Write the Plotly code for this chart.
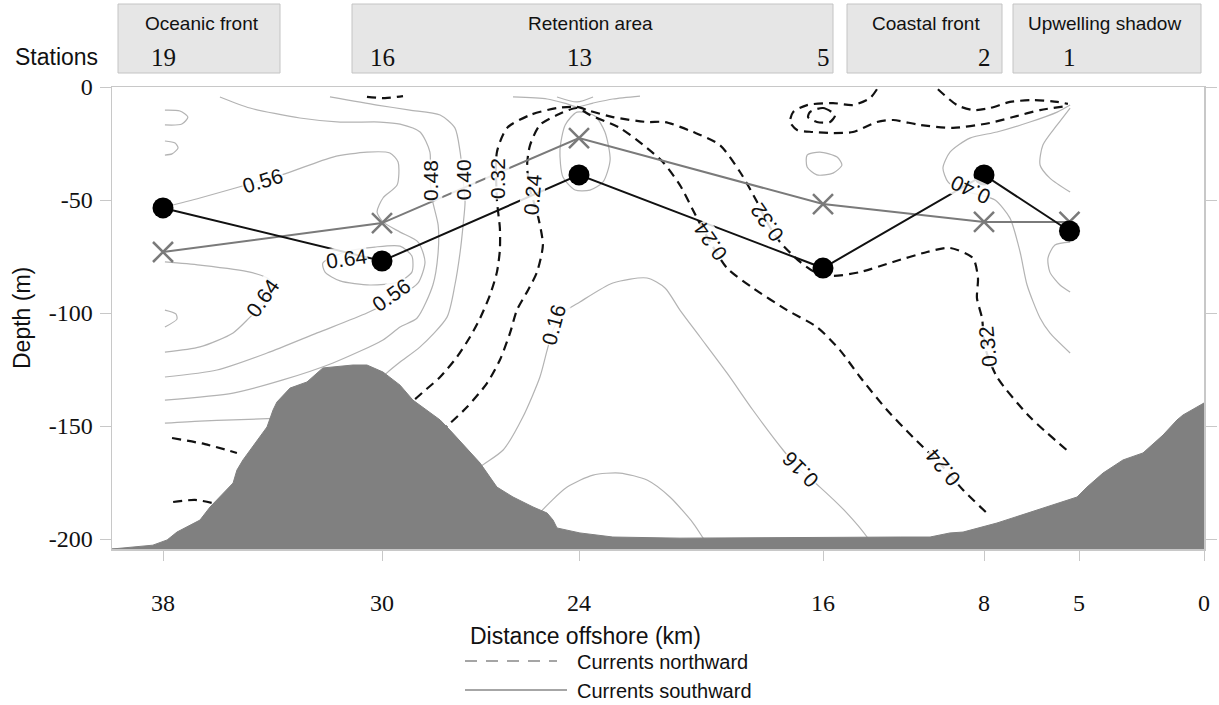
import numpy as np
import plotly.graph_objects as go

# ---------------- axis definitions ----------------
# distance offshore (km) and its position along the drawn section (non-uniform scale of the original)
AXIS_KM = [39.86, 38, 30, 24, 16, 8, 5, 0]
AXIS_POS = [0, 51, 270, 467, 711, 872, 967, 1092]
TICK_KM = [38, 30, 24, 16, 8, 5, 0]
TICK_LABELS = ["38", "30", "24", "16", "8", "5", "0"]
DEPTH_TICKS = [0, -50, -100, -150, -200]
DEPTH_TICK_LABELS = ["0", "-50", "-100", "-150", "-200"]
DEPTH_MIN = -204.4

# ---------------- stations ----------------
STATION_KM = [38, 30, 24, 16, 8, 5.3]
STATION_IDS = ["19", "16", "13", "5", "2", "1"]
REGION_NAMES = ["Oceanic front", "Retention area", "Coastal front", "Upwelling shadow"]
CIRCLE_DEPTH = [-53.5, -77.0, -38.9, -80.1, -38.9, -63.7]
CROSS_DEPTH = [-73.0, -60.2, -22.6, -51.8, -59.7, -59.7]

# ---------------- bathymetry ----------------
BATHY_KM = [39.86, 38.37, 37.85, 37.49, 36.65, 36.28, 35.44, 35.30, 35.08, 34.46, 34.20, 33.98,
            33.84, 33.36, 32.74, 32.16, 31.06, 30.55, 29.97, 29.45, 29.06, 28.23, 27.93, 27.01,
            26.50, 26.01, 25.40, 24.97, 24.79, 24.67, 23.97, 22.89, 20.69, 12.17, 10.68, 9.69,
            9.04, 7.59, 6.55, 5.06, 4.68, 4.04, 3.24, 2.44, 1.64, 1.08, 0.84, 0.00]
BATHY_DEPTH = [-204.4, -202.7, -200.4, -196.9, -191.6, -185.8, -175.2, -169.5, -165.0, -154.9, -150.4, -142.9,
               -139.4, -133.2, -130.5, -124.3, -123.0, -123.0, -126.1, -131.9, -138.5, -147.3, -151.8, -166.4,
               -177.0, -181.4, -185.8, -188.5, -191.6, -195.1, -197.3, -199.1, -199.6, -199.1, -199.1, -197.3,
               -196.9, -192.9, -188.1, -181.4, -177.0, -170.8, -165.0, -161.9, -154.0, -147.3, -145.1, -139.8]

# ---------------- southward current isolines (solid) ----------------
S048_KM = [35.92, 34.82, 33.00, 31.53, 30.07, 29.45, 28.84, 28.54, 28.54, 28.45, 28.29, 28.29, 28.45, 28.93,
           29.45, 29.97, 31.79, 33.62, 35.44, 37.93]
S048_D = [-4.4, -9.3, -13.7, -15.5, -15.5, -16.4, -19.9, -28.8, -40.3, -50.9, -61.1, -73.0, -87.6, -102.2,
          -106.2, -111.9, -122.1, -129.6, -135.4, -138.5]
S040A_KM = [31.90, 30.18, 29.15, 28.23, 27.78, 27.62, 27.53, 27.47, 27.53, 27.62, 27.78, 28.02, 28.84, 29.45,
            29.85, 30.07]
S040A_D = [-4.4, -8.0, -10.2, -12.4, -18.1, -28.8, -41.2, -50.9, -61.1, -73.0, -87.6, -101.8, -115.0, -121.7,
           -126.5, -129.6]
S040B_KM = [37.93, 36.65, 35.44, 33.70]
S040B_D = [-148.7, -147.8, -147.3, -146.5]
S056_KM = [37.93, 36.65, 34.35, 33.47, 31.79, 30.55, 29.76, 29.51, 29.54, 29.97, 30.18, 29.97, 29.45, 28.90,
           28.69, 28.90, 29.45, 30.55, 32.37, 34.20, 36.03, 37.93]
S056_D = [-53.1, -49.1, -41.2, -38.1, -31.0, -28.8, -29.2, -33.2, -43.4, -49.1, -55.3, -59.7, -64.2, -68.6,
          -77.4, -86.7, -92.5, -100.0, -108.8, -117.7, -125.2, -128.3]
S064A_KM = [37.93, 36.65, 34.82, 34.09, 34.02, 34.38, 34.82, 35.44, 36.65, 37.93]
S064A_D = [-77.4, -78.8, -81.9, -85.4, -90.7, -96.5, -101.8, -108.8, -115.0, -117.3]
S064B_KM = [32.16, 31.35, 30.26, 29.45, 29.09, 29.09, 29.51, 30.44, 31.53, 32.08, 32.16]
S064B_D = [-77.9, -73.0, -70.8, -70.4, -74.8, -81.9, -86.3, -87.6, -85.8, -81.9, -77.9]
SL1_KM = [37.93, 37.38, 37.09, 37.31, 37.93]
SL1_D = [-10.2, -10.6, -13.3, -16.4, -16.8]
SL2_KM = [37.93, 37.56, 37.45, 37.67, 37.93]
SL2_D = [-23.9, -24.8, -27.0, -29.6, -30.1]
SL3_KM = [37.93, 37.53, 37.49, 37.93]
SL3_D = [-98.7, -100.4, -102.7, -106.2]
SV1_KM = [26.01, 24.97, 24.36, 24.06, 23.54, 22.89, 22.00]
SV1_D = [-4.4, -5.3, -7.5, -8.8, -7.1, -5.3, -4.0]
SV2_KM = [24.67, 24.06, 23.54]
SV2_D = [-4.4, -6.6, -4.4]
S24LOOP_KM = [24.06, 23.48, 23.15, 22.98, 23.21, 23.64, 24.12, 24.49, 24.58, 24.42, 24.06]
S24LOOP_D = [-11.1, -12.8, -19.9, -32.3, -42.0, -45.6, -45.6, -39.8, -27.9, -16.8, -11.1]
S016_KM = [27.32, 27.01, 26.31, 25.71, 25.19, 24.97, 24.79, 24.49, 23.97, 22.89, 21.77, 21.18, 20.69, 20.03,
           19.15, 18.30, 17.31, 16.75, 16.10, 14.81, 13.81, 13.57]
S016_D = [-173.0, -168.1, -160.6, -146.0, -128.3, -116.4, -107.5, -100.0, -95.1, -86.7, -84.5, -88.9, -98.7,
          -110.6, -126.5, -142.9, -160.6, -169.5, -177.0, -188.5, -199.1, -202.7]
SARCH_KM = [25.30, 25.19, 24.36, 23.54, 22.66, 21.77, 21.02, 20.26, 19.93, 19.80]
SARCH_D = [-192.0, -188.5, -177.0, -171.7, -170.8, -173.9, -181.4, -192.9, -199.6, -202.5]
S16LOOP_KM = [16.52, 16.10, 15.30, 15.06, 15.50, 16.20, 16.52, 16.52]
S16LOOP_D = [-30.1, -28.8, -31.0, -34.5, -38.1, -38.9, -35.4, -30.1]
S040R_KM = [5.28, 5.69, 6.55, 7.59, 8.70, 9.69, 10.04, 9.79, 9.19, 8.20, 7.65, 7.18, 6.86, 6.64, 6.23, 5.92, 5.28]
S040R_D = [-8.0, -11.1, -15.5, -19.9, -22.6, -28.8, -35.8, -42.0, -45.6, -47.8, -50.0, -58.0, -73.0, -87.6,
           -102.2, -108.8, -117.7]
SR2_KM = [5.28, 5.69, 6.14, 6.23, 5.92, 5.28]
SR2_D = [-9.3, -16.8, -25.7, -34.5, -40.3, -46.5]
SR3_KM = [5.28, 5.76, 5.98, 5.92, 5.60, 5.28]
SR3_D = [-68.6, -69.9, -75.7, -81.9, -87.6, -90.7]

# ---------------- northward current isolines (dashed) ----------------
N032_KM = [29.30, 29.09, 28.75, 28.23, 27.72, 27.32, 27.01, 26.71, 26.50, 26.41, 26.41, 26.50, 26.50, 26.19,
           25.49, 24.67, 24.06, 23.64, 22.89, 21.77, 21.18, 20.26, 19.38, 18.72, 18.16, 17.84, 17.41, 16.75,
           16.26, 15.50, 14.16, 12.52, 10.83, 9.69, 8.55, 8.30, 8.35, 8.10, 7.97, 7.59, 6.55, 5.28]
N032_D = [-142.9, -139.4, -135.0, -128.3, -119.5, -110.6, -102.2, -92.0, -81.9, -72.1, -62.4, -50.0, -28.8,
          -18.1, -12.4, -9.3, -8.8, -10.6, -13.3, -15.5, -15.5, -19.9, -25.7, -37.6, -50.9, -59.7, -68.6, -77.4,
          -81.9, -83.6, -81.9, -77.4, -73.0, -71.2, -75.7, -84.5, -93.4, -102.2, -115.0, -128.3, -146.0, -161.9]
N024_KM = [28.23, 27.99, 27.41, 26.80, 26.41, 26.10, 25.89, 25.55, 25.28, 25.10, 25.28, 25.49, 25.58, 25.49,
           25.19, 24.67, 24.06, 23.64, 22.66, 21.77, 21.25, 20.69, 20.13, 19.70, 19.15, 18.30, 17.18, 16.20,
           15.16, 14.16, 12.82, 11.53, 10.04, 9.04, 7.91]
N024_D = [-152.7, -149.6, -141.6, -131.0, -120.8, -108.8, -98.7, -89.8, -81.9, -69.9, -55.3, -45.6, -34.5,
          -25.7, -16.8, -12.4, -9.3, -12.4, -18.1, -27.0, -33.2, -43.4, -58.0, -68.6, -80.1, -88.9, -98.7,
          -106.2, -116.4, -128.3, -142.9, -154.9, -168.1, -178.3, -188.5]
NU_KM = [13.32, 13.66, 14.51, 15.50, 16.52, 16.98, 17.08, 16.85, 16.33, 15.50, 14.51, 13.32, 12.52, 11.18,
         9.54, 7.81, 7.08, 6.23, 5.38]
NU_D = [-1.0, -4.9, -8.0, -7.1, -8.0, -11.1, -15.5, -19.0, -19.9, -20.4, -19.9, -15.5, -14.6, -16.8, -18.1,
        -15.9, -13.3, -10.2, -8.4]
NLOOP_KM = [16.43, 16.00, 15.40, 15.65, 16.20, 16.49, 16.43]
NLOOP_D = [-11.1, -9.3, -12.4, -15.5, -15.5, -13.3, -11.1]
NTOPR_KM = [10.29, 9.34, 8.55, 7.81, 7.18, 6.45, 5.69, 5.35]
NTOPR_D = [-1.0, -8.0, -10.2, -9.3, -6.6, -5.8, -6.6, -7.5]
NTOPL_KM = [30.55, 29.91, 29.36]
NTOPL_D = [-4.4, -4.9, -4.0]
NDEEP1_KM = [37.67, 36.47, 35.30]
NDEEP1_D = [-155.3, -158.0, -161.9]
NDEEP2_KM = [37.63, 36.83, 36.17]
NDEEP2_D = [-183.6, -182.7, -184.1]

# ---------------- isoline labels ----------------
LABEL_TEXT = ["0.56", "0.64", "0.64", "0.56", "0.48", "0.40", "0.32", "0.24", "0.16",
              "0.32", "0.24", "0.16", "0.24", "0.32", "0.40"]
LABEL_KM = [34.35, 31.28, 34.38, 29.70, 28.54, 27.53, 26.50, 25.43, 24.79,
            17.84, 19.70, 16.75, 10.04, 7.87, 8.70]
LABEL_D = [-41.2, -75.7, -93.4, -92.0, -41.2, -41.2, -40.3, -47.8, -105.3,
           -59.7, -68.6, -169.5, -168.1, -115.0, -45.6]
LABEL_ANGLE = [-17, -8, -55, -35, -90, -90, -90, -85, -75, -125, -125, -135, -130, -95, -155]

# ---------------- helpers ----------------
def xs(km):
    return np.interp(-np.asarray(km, dtype=float), -np.asarray(AXIS_KM, dtype=float), AXIS_POS)

PLOT_L, PLOT_R, PLOT_T, PLOT_B = 112, 1204, 87, 549
def pxx(x):
    return (x - PLOT_L) / (PLOT_R - PLOT_L)
def pxy(y):
    return (PLOT_B - y) / (PLOT_B - PLOT_T)

SANS_N = "Liberation Sans Narrow, Arial Narrow, Liberation Sans, Arial, sans-serif"
SANS = "Liberation Sans, Arial, sans-serif"
SERIF = "Liberation Serif, Times New Roman, serif"

fig = go.Figure()

south_lines = [(S048_KM, S048_D), (S040A_KM, S040A_D), (S040B_KM, S040B_D), (S056_KM, S056_D),
               (S064A_KM, S064A_D), (S064B_KM, S064B_D), (SL1_KM, SL1_D), (SL2_KM, SL2_D), (SL3_KM, SL3_D),
               (SV1_KM, SV1_D), (SV2_KM, SV2_D), (S24LOOP_KM, S24LOOP_D), (S016_KM, S016_D),
               (SARCH_KM, SARCH_D), (S16LOOP_KM, S16LOOP_D), (S040R_KM, S040R_D), (SR2_KM, SR2_D),
               (SR3_KM, SR3_D)]
north_lines = [(N032_KM, N032_D), (N024_KM, N024_D), (NU_KM, NU_D), (NLOOP_KM, NLOOP_D),
               (NTOPR_KM, NTOPR_D), (NTOPL_KM, NTOPL_D), (NDEEP1_KM, NDEEP1_D), (NDEEP2_KM, NDEEP2_D)]

for km, d in south_lines:
    fig.add_trace(go.Scatter(x=xs(km), y=d, mode="lines",
                             line=dict(color="#b3b3b3", width=1.2, shape="spline", smoothing=0.7),
                             hoverinfo="skip", showlegend=False))
for km, d in north_lines:
    fig.add_trace(go.Scatter(x=xs(km), y=d, mode="lines",
                             line=dict(color="#111111", width=2.2, dash="9px,6px", shape="spline", smoothing=0.7),
                             hoverinfo="skip", showlegend=False))

# bathymetry
bx = list(xs(BATHY_KM)) + [xs([0])[0], xs([AXIS_KM[0]])[0]]
by = list(BATHY_DEPTH) + [DEPTH_MIN, DEPTH_MIN]
fig.add_trace(go.Scatter(x=bx, y=by, mode="lines", fill="toself", fillcolor="#808080",
                         line=dict(color="#808080", width=1), hoverinfo="skip", showlegend=False))

# station series
fig.add_trace(go.Scatter(x=xs(STATION_KM), y=CROSS_DEPTH, mode="lines+markers",
                         line=dict(color="#7a7a7a", width=2),
                         marker=dict(symbol="x-thin", size=20, line=dict(color="#7a7a7a", width=2.5)),
                         hoverinfo="skip", showlegend=False))
fig.add_trace(go.Scatter(x=xs(STATION_KM), y=CIRCLE_DEPTH, mode="lines+markers",
                         line=dict(color="#111111", width=2),
                         marker=dict(symbol="circle", size=21, color="#000000"),
                         hoverinfo="skip", showlegend=False))

annotations = []
for t, k, d, a in zip(LABEL_TEXT, LABEL_KM, LABEL_D, LABEL_ANGLE):
    annotations.append(dict(x=xs([k])[0], y=d, xref="x", yref="y", text=t, showarrow=False,
                            xanchor="center", yanchor="middle",
                            textangle=a, font=dict(family=SANS, size=21, color="#111111"),
                            bgcolor="rgba(255,255,255,0.85)", borderpad=0))

def note(x, y, text, size, family=SANS_N, xref="paper", xanchor="center", angle=0):
    return dict(x=x, y=y, xref=xref, yref="paper", text=text, showarrow=False,
                xanchor=xanchor, yanchor="middle", textangle=angle,
                font=dict(family=family, size=size, color="#111111"))

shapes = []
# region boxes (pixel extents of the header)
BOXES = [(118, 280), (352, 833), (847, 1002), (1013, 1201)]
BOX_TEXT_X = [202, 590, 926, 1104]
for (x0, x1), name, tx in zip(BOXES, REGION_NAMES, BOX_TEXT_X):
    shapes.append(dict(type="rect", xref="paper", yref="paper", x0=pxx(x0), x1=pxx(x1), y0=pxy(73), y1=pxy(4),
                       fillcolor="#e6e6e6", line=dict(color="#c4c4c4", width=1), layer="below"))
    annotations.append(note(pxx(tx), pxy(24), name, 19))
for sid, k in zip(STATION_IDS, STATION_KM):
    annotations.append(note(xs([k])[0], pxy(57), sid, 25, family=SERIF, xref="x"))
annotations.append(note(pxx(56), pxy(57), "Stations", 23))

# axis titles
annotations.append(note(pxx(22), pxy(318), "Depth (m)", 23, angle=-90))
annotations.append(note(pxx(585), pxy(636), "Distance offshore (km)", 23))

# legend (drawn)
shapes.append(dict(type="line", xref="paper", yref="paper", x0=pxx(465), x1=pxx(557), y0=pxy(661), y1=pxy(661),
                   line=dict(color="#888888", width=1.5, dash="12px,9px")))
shapes.append(dict(type="line", xref="paper", yref="paper", x0=pxx(465), x1=pxx(567), y0=pxy(690), y1=pxy(690),
                   line=dict(color="#888888", width=1.5)))
annotations.append(note(pxx(575), pxy(662), "Currents northward", 20, xanchor="left"))
annotations.append(note(pxx(575), pxy(691), "Currents southward", 20, xanchor="left"))

fig.update_layout(
    width=1219, height=705,
    margin=dict(l=PLOT_L, r=1219 - PLOT_R, t=PLOT_T, b=705 - PLOT_B),
    paper_bgcolor="white", plot_bgcolor="white",
    showlegend=False,
    annotations=annotations, shapes=shapes,
    xaxis=dict(range=[0, AXIS_POS[-1]], tickvals=list(xs(TICK_KM)), ticktext=TICK_LABELS,
               showgrid=False, zeroline=False, showline=True, linecolor="#c8c8c8", linewidth=1.5, mirror=True,
               ticks="outside", ticklen=10, tickcolor="#c8c8c8", ticklabelstandoff=22, automargin=False,
               tickfont=dict(family=SERIF, size=24, color="#111111")),
    yaxis=dict(range=[DEPTH_MIN, 0], tickvals=DEPTH_TICKS, ticktext=DEPTH_TICK_LABELS, automargin=False,
               showgrid=False, zeroline=False, showline=True, linecolor="#c8c8c8", linewidth=1.5, mirror="ticks",
               ticks="outside", ticklen=11, tickcolor="#c8c8c8", ticklabelstandoff=2,
               tickfont=dict(family=SERIF, size=24, color="#111111")),
)

fig.write_html("out.html", config={"displayModeBar": False, "staticPlot": True},
               post_script="document.body.style.margin='0';")
